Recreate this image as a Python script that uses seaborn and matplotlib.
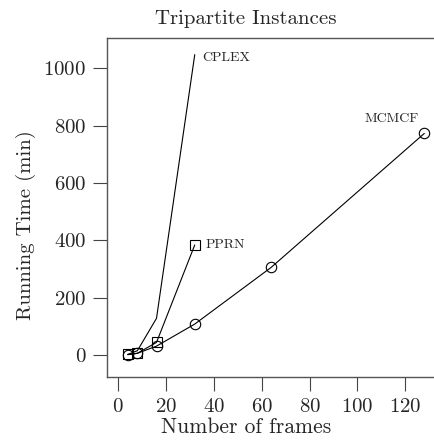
import matplotlib
matplotlib.use("Agg")
import matplotlib.pyplot as plt
import seaborn as sns

# Running times (min)
frames = [4, 8, 16, 32, 64, 128]
mcmcf = [1, 6, 31, 108, 306, 773]
pprn_frames = [4, 8, 16, 32]
pprn = [2, 6, 44, 384]
cplex_frames = [4, 8, 16, 32]
cplex = [2, 15, 128, 1048]

sns.set_style("ticks")
plt.rcParams["font.family"] = ["cmr10", "DejaVu Serif"]
plt.rcParams["axes.formatter.use_mathtext"] = True
plt.rcParams["mathtext.fontset"] = "cm"

fig = plt.figure(figsize=(4.35, 4.45), dpi=100)
ax = fig.add_axes([0.246, 0.1528, 0.775, 0.7618])

line_kw = dict(color="black", linewidth=0.8)
sns.lineplot(x=cplex_frames, y=cplex, ax=ax, **line_kw)
sns.lineplot(x=pprn_frames, y=pprn, ax=ax, marker="s", markersize=6.5,
             markerfacecolor="none", markeredgecolor="black", markeredgewidth=0.8, **line_kw)
sns.lineplot(x=frames, y=mcmcf, ax=ax, marker="o", markersize=7.5,
             markerfacecolor="none", markeredgecolor="black", markeredgewidth=0.8, **line_kw)

ax.text(35, 1036, "CPLEX", fontsize=10, va="center", ha="left")
ax.text(36.5, 384, "PPRN", fontsize=10, va="center", ha="left")
ax.text(125.5, 822, "MCMCF", fontsize=10, va="center", ha="right")

ax.set_xlim(-4.7, 136.3)
ax.set_ylim(-76.7, 1106)
ax.set_xticks([0, 20, 40, 60, 80, 100, 120])
ax.set_yticks([0, 200, 400, 600, 800, 1000])

ax.set_title("Tripartite Instances", fontsize=15, pad=10, x=0.412)
ax.set_xlabel("Number of frames", fontsize=15.5, labelpad=1)
ax.set_ylabel("Running Time (min)", fontsize=15, labelpad=5)
ax.xaxis.label.set_x(0.412)
ax.yaxis.label.set_y(0.448)
ax.tick_params(labelsize=15, length=10, width=0.8, color="#444444", pad=5)

for side in ["left", "bottom", "top"]:
    ax.spines[side].set_visible(True)
    ax.spines[side].set_color("#555555")
    ax.spines[side].set_linewidth(1.0)
ax.spines["right"].set_visible(False)

fig.savefig("out.png", dpi=100)
